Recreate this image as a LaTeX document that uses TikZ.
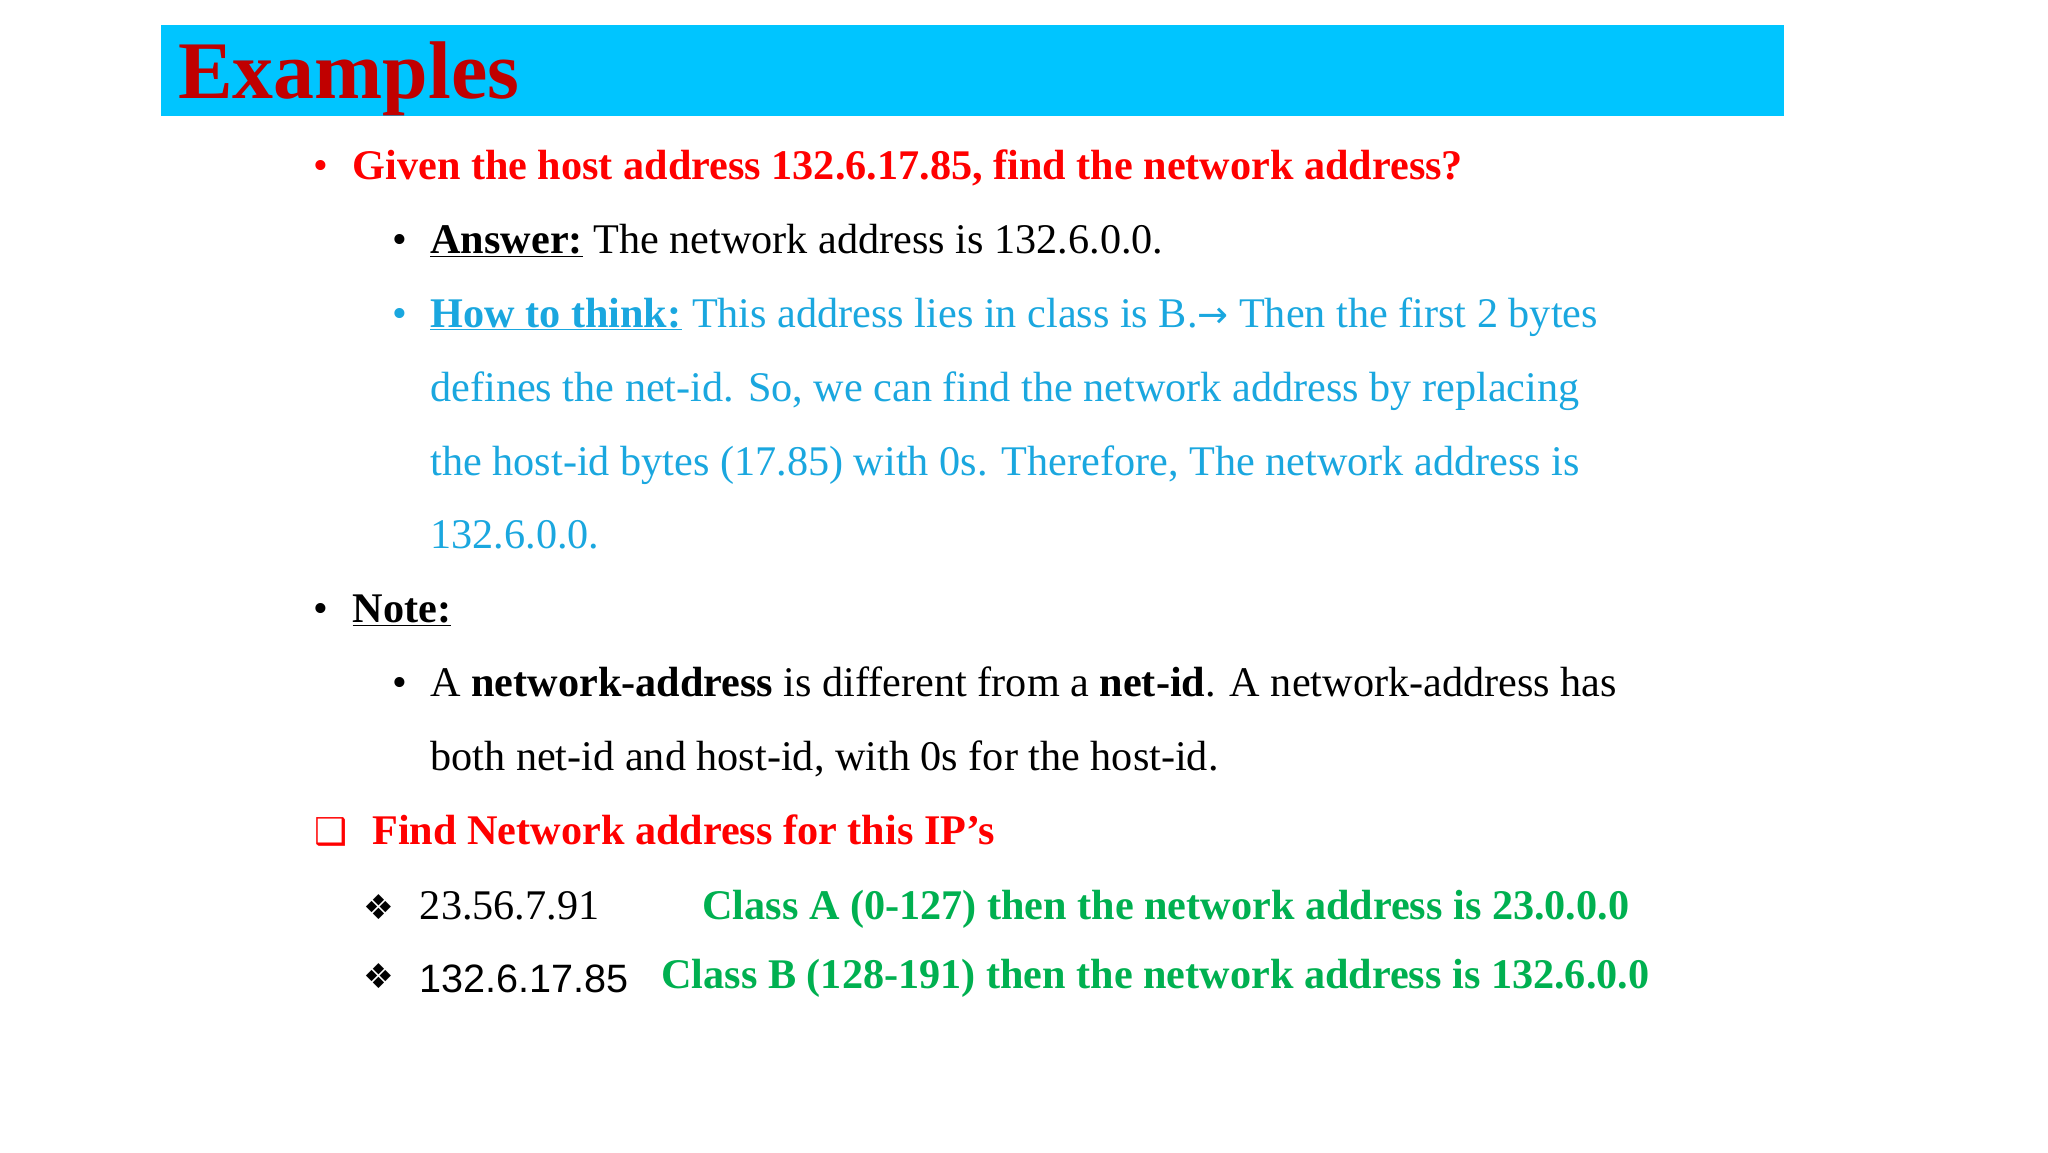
\documentclass[tikz,border=0pt]{standalone}
\usepackage{fontspec}
\setmainfont{Liberation Serif}
\newfontfamily\dvs{DejaVu Sans}
\newfontfamily\lsans{Liberation Sans}
\definecolor{barblue}{HTML}{00C5FF}
\definecolor{titlered}{HTML}{C00000}
\definecolor{hred}{HTML}{FF0000}
\definecolor{tblue}{HTML}{1AA7DF}
\definecolor{tgreen}{HTML}{00B050}
\begin{document}
\begin{tikzpicture}[x=1pt,y=-1pt,
  txt/.style={anchor=base west,inner sep=0pt,font=\fontsize{32}{38}\selectfont},
  ul/.style={}]
\useasboundingbox (0,0) rectangle (1552,873);
\fill[white] (0,0) rectangle (1552,873);
\fill[barblue] (122,19) rectangle (1352,88);
\node[txt,font=\fontsize{62}{70}\selectfont\bfseries,text=titlered] (title) at (135,75) {Examples};
\node[txt,text=hred] (b1) at (237,136) {\textbullet};
\node[txt,text=hred,font=\fontsize{32}{38}\selectfont\bfseries] (q) at (267,136) {Given the host address 132.6.17.85, find the network address?};
\node[txt] (b2) at (297,192) {\textbullet};
\node[txt] (ans) at (326,192) {\textbf{\underline{Answer:}} The network address is 132.6.0.0.};
\node[txt,text=tblue] (b3) at (297,248) {\textbullet};
\node[txt,text=tblue] (h1) at (326,248) {\textbf{\underline{How to think:}} This address lies in class is B.{\dvs\fontsize{28}{32}\selectfont→} Then the first 2 bytes};
\node[txt,text=tblue] (h2) at (326,304) {defines the net-id. So, we can find the network address by replacing};
\node[txt,text=tblue] (h3) at (326,360) {the host-id bytes (17.85) with 0s. Therefore, The network address is};
\node[txt,text=tblue] (h4) at (326,416) {132.6.0.0.};
\node[txt] (b4) at (237,472) {\textbullet};
\node[txt] (note) at (267,472) {\textbf{\underline{Note:}}};
\node[txt] (b5) at (297,528) {\textbullet};
\node[txt] (n1) at (326,528) {A \textbf{network-address} is different from a \textbf{net-id}. A network-address has};
\node[txt] (n2) at (326,584) {both net-id and host-id, with 0s for the host-id.};
\node[txt,text=hred] (sq) at (238,640) {\dvs\fontsize{28}{32}\selectfont ❑};
\node[txt,text=hred,font=\fontsize{32}{38}\selectfont\bfseries] (find) at (282,640) {Find Network address for this IP’s};
\node[txt] (d1) at (275,697) {\dvs\fontsize{26}{30}\selectfont ❖};
\node[txt] (ip1) at (318,697) {23.56.7.91};
\node[txt,text=tgreen,font=\fontsize{32}{38}\selectfont\bfseries] (ca) at (532,697) {Class A (0-127) then the network address is 23.0.0.0};
\node[txt] (d2) at (275,749) {\dvs\fontsize{26}{30}\selectfont ❖};
\node[txt,font=\fontsize{30}{36}\selectfont\lsans] (ip2) at (318,752) {132.6.17.85};
\node[txt,text=tgreen,font=\fontsize{32}{38}\selectfont\bfseries] (cb) at (501,749) {Class B (128-191) then the network address is 132.6.0.0};
\end{tikzpicture}
\end{document}
